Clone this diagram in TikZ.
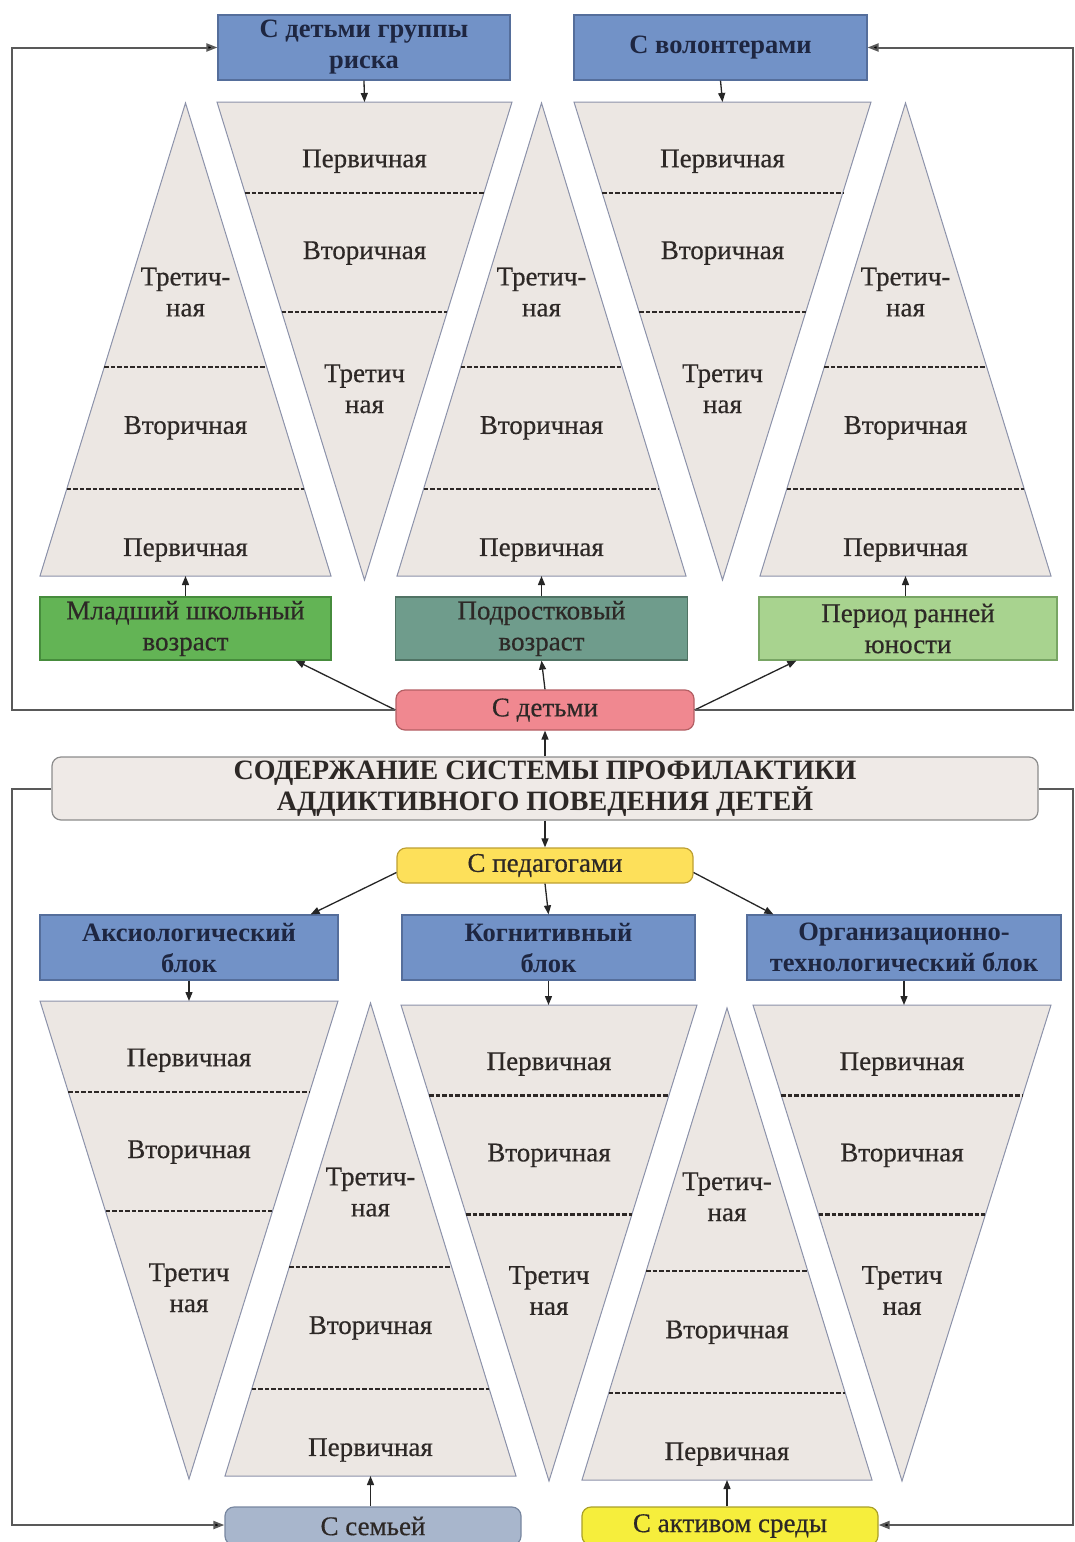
\documentclass[tikz,border=0pt]{standalone}
\usepackage{fontspec}
\setmainfont{Liberation Serif}
\newfontfamily\lblfont[FakeBold=0.5]{Liberation Serif}
\usetikzlibrary{arrows.meta,calc}
\definecolor{boxblue}{RGB}{114,146,199}
\definecolor{boxblueD}{RGB}{85,110,155}
\definecolor{navy}{RGB}{30,38,65}
\definecolor{grnA}{RGB}{99,180,85}
\definecolor{grnAD}{RGB}{70,140,60}
\definecolor{grnB}{RGB}{111,156,140}
\definecolor{grnBD}{RGB}{80,115,100}
\definecolor{grnC}{RGB}{168,211,143}
\definecolor{grnCD}{RGB}{120,165,100}
\definecolor{pinkbox}{RGB}{240,136,144}
\definecolor{pinkboxD}{RGB}{180,95,100}
\definecolor{goldbox}{RGB}{253,224,90}
\definecolor{goldboxD}{RGB}{190,160,50}
\definecolor{sembox}{RGB}{168,182,204}
\definecolor{semboxD}{RGB}{120,135,160}
\definecolor{aktbox}{RGB}{246,238,60}
\definecolor{aktboxD}{RGB}{170,160,40}
\definecolor{mainfill}{RGB}{239,234,231}
\definecolor{mainD}{RGB}{140,140,140}
\definecolor{trifill}{RGB}{236,231,227}
\definecolor{triD}{RGB}{140,146,170}
\definecolor{txt}{RGB}{45,40,38}
\newcommand\downtri[5]{%
  \coordinate (#1-tl) at (#2,#4);
  \coordinate (#1-tr) at (#3,#4);
  \coordinate (#1-ap) at ({(#2+#3)/2},#5);
  \coordinate (#1-tm) at ({(#2+#3)/2},#4);
  \filldraw[tri] (#1-tl) -- (#1-tr) -- (#1-ap) -- cycle;
  \draw[dsh] ($(#1-tl)!0.19!(#1-ap)$) -- ($(#1-tr)!0.19!(#1-ap)$);
  \draw[dsh] ($(#1-tl)!0.44!(#1-ap)$) -- ($(#1-tr)!0.44!(#1-ap)$);
  \node[lbl] (#1-a) at ($(#1-tm)!0.124!(#1-ap)$) {Первичная};
  \node[lbl] (#1-b) at ($(#1-tm)!0.316!(#1-ap)$) {Вторичная};
  \node[lbl] (#1-c) at ($(#1-tm)!0.60!(#1-ap)$) {Третич\\ная};
}
\newcommand\uptri[5]{%
  \coordinate (#1-bl) at (#2,#5);
  \coordinate (#1-br) at (#3,#5);
  \coordinate (#1-ap) at ({(#2+#3)/2},#4);
  \coordinate (#1-bm) at ({(#2+#3)/2},#5);
  \filldraw[tri] (#1-bl) -- (#1-br) -- (#1-ap) -- cycle;
  \draw[dsh] ($(#1-ap)!0.558!(#1-bl)$) -- ($(#1-ap)!0.558!(#1-br)$);
  \draw[dsh] ($(#1-ap)!0.816!(#1-bl)$) -- ($(#1-ap)!0.816!(#1-br)$);
  \node[lbl] (#1-c) at ($(#1-ap)!0.40!(#1-bm)$) {Третич-\\ная};
  \node[lbl] (#1-b) at ($(#1-ap)!0.687!(#1-bm)$) {Вторичная};
  \node[lbl] (#1-a) at ($(#1-ap)!0.945!(#1-bm)$) {Первичная};
}
\begin{document}
\begin{tikzpicture}[x=1pt,y=-1pt,
  tri/.style={fill=trifill,draw=triD,line width=1pt,line join=miter},
  dsh/.style={draw=txt,line width=2.2pt,dash pattern=on 4.5pt off 2pt},
  lbl/.style={font=\lblfont\fontsize{27}{31}\selectfont,text=txt,align=center,inner sep=0pt},
  box/.style={draw,line width=1.2pt,align=center,inner sep=2pt,text=txt,
    font=\lblfont\fontsize{27}{31}\selectfont},
  bluebox/.style={box,fill=boxblue,draw=boxblueD,text=navy,
    font=\bfseries\fontsize{26.5}{31}\selectfont},
  rbox/.style={box,rounded corners=9pt},
  arr/.style={draw=black!85,line width=1.3pt,-{Triangle[length=9pt,width=7pt]}},
  loopl/.style={draw=black!65,line width=2pt,-{Triangle[length=11pt,width=8pt,fill=black]}}]
\useasboundingbox (0,0) rectangle (1075,1542);
\fill[white] (0,0) rectangle (1075,1542);

% ---------- top boxes ----------
\node[bluebox,minimum width=292pt,minimum height=65pt] (rg) at (364,47.5) {С детьми группы\\риска};
\node[bluebox,minimum width=293pt,minimum height=65pt] (vol) at (720.5,47.5) {С волонтерами};

% ---------- top triangles ----------
\downtri{T1}{217}{512}{102}{580}
\downtri{T2}{574}{871}{102}{580}
\uptri{U1}{40}{331}{103}{576}
\uptri{U2}{397}{686}{103}{576}
\uptri{U3}{760}{1051}{103}{576}

\draw[arr] (rg.south) -- (T1-tm);
\draw[arr] (vol.south) -- (T2-tm);

% ---------- age boxes ----------
\node[box,fill=grnA,draw=grnAD,minimum width=291pt,minimum height=63pt] (ml) at (185.5,628.5) {Младший школьный\\возраст};
\node[box,fill=grnB,draw=grnBD,minimum width=292pt,minimum height=63pt] (pod) at (541.5,628.5) {Подростковый\\возраст};
\node[box,fill=grnC,draw=grnCD,minimum width=298pt,minimum height=63pt] (yun) at (908,628.5) {Период ранней\\юности};

\draw[arr] (ml.north) -- (U1-bm);
\draw[arr] (pod.north) -- (U2-bm);
\draw[arr] (yun.north -| U3-bm) -- (U3-bm);

% ---------- С детьми ----------
\node[rbox,fill=pinkbox,draw=pinkboxD,minimum width=298pt,minimum height=40pt] (deti) at (545,710) {С детьми};
\draw[arr] (deti.west) -- ($(ml.south east)+(-36,0)$);
\draw[arr] (deti.north) -- (pod.south);
\draw[arr] (deti.east) -- ($(yun.south west)+(38,0)$);

% ---------- main box ----------
\node[rbox,fill=mainfill,draw=mainD,minimum width=986pt,minimum height=63pt,
  font=\bfseries\fontsize{28}{31}\selectfont] (main) at (545,788.5)
  {СОДЕРЖАНИЕ СИСТЕМЫ ПРОФИЛАКТИКИ\\АДДИКТИВНОГО ПОВЕДЕНИЯ ДЕТЕЙ};
\draw[arr] (main.north) -- (deti.south);

% ---------- С педагогами ----------
\node[rbox,fill=goldbox,draw=goldboxD,minimum width=296pt,minimum height=35pt] (ped) at (545,865.5) {С педагогами};
\draw[arr] (main.south) -- (ped.north);

% ---------- block boxes ----------
\node[bluebox,minimum width=298pt,minimum height=65pt] (aks) at (189,947.5) {Аксиологический\\блок};
\node[bluebox,minimum width=293pt,minimum height=65pt] (kog) at (548.5,947.5) {Когнитивный\\блок};
\node[bluebox,minimum width=314pt,minimum height=65pt] (org) at (904,947.5) {Организационно-\\технологический блок};

\draw[arr] ($(ped.west)+(0,7)$) -- ($(aks.north east)+(-28,0)$);
\draw[arr] (ped.south) -- (kog.north);
\draw[arr] ($(ped.east)+(0,7)$) -- ($(org.north west)+(27,0)$);

% ---------- bottom triangles ----------
\downtri{BT1}{40}{338}{1001}{1479}
\downtri{BT2}{401}{697}{1005}{1481}
\downtri{BT3}{753}{1051}{1005}{1481}
\uptri{BU1}{225}{516}{1003}{1476}
\uptri{BU2}{582}{872}{1008}{1480}

\draw[arr] (aks.south) -- (BT1-tm);
\draw[arr] (kog.south) -- (kog.south |- BT2-tm);
\draw[arr] (org.south) -- (org.south |- BT3-tm);

% ---------- bottom boxes ----------
\node[rbox,fill=sembox,draw=semboxD,minimum width=296pt,minimum height=38pt] (sem) at (373,1526) {С семьей};
\node[rbox,fill=aktbox,draw=aktboxD,minimum width=296pt,minimum height=38pt] (akt) at (730,1526) {С активом среды};

\draw[arr] (sem.north -| BU1-bm) -- (BU1-bm);
\draw[arr] (akt.north -| BU2-bm) -- (BU2-bm);

% ---------- loop lines ----------
\coordinate (L1) at (12,710);
\coordinate (L2) at (12,47.5);
\coordinate (R1) at (1073,710);
\coordinate (R2) at (1073,47.5);
\draw[loopl] (deti.west) -- (L1) -- (L2) -- (rg.west);
\draw[loopl] (deti.east) -- (R1) -- (R2) -- (vol.east);

\coordinate (L3) at (12,788.5);
\coordinate (L4) at (12,1525);
\coordinate (R3) at (1073,788.5);
\coordinate (R4) at (1073,1525);
\draw[loopl] (main.west) -- (L3) -- (L4) -- (sem.west |- L4);
\draw[loopl] (main.east) -- (R3) -- (R4) -- (akt.east |- R4);
\end{tikzpicture}
\end{document}
